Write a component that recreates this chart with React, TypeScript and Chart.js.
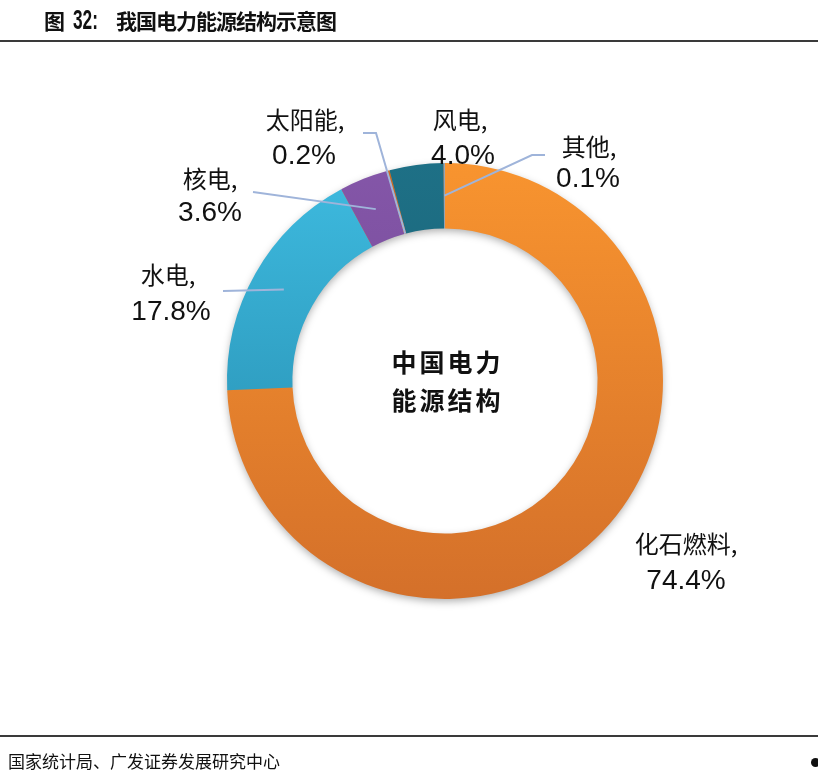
import React, { useEffect, useRef } from 'react';
import { Chart, registerables } from 'chart.js';

Chart.register(...registerables);

// ---- data ----
const categories = ['化石燃料', '水电', '核电', '太阳能', '风电', '其他'];
const shares = [74.4, 17.8, 3.6, 0.2, 4.0, 0.1];
const shareLabels = ['74.4%', '17.8%', '3.6%', '0.2%', '4.0%', '0.1%'];
const centerTitle = ['中国电力', '能源结构'];
const titleNo = '32:';
const titleText = '我国电力能源结构示意图';
const sourceText = '国家统计局、广发证券发展研究中心';

// ---- styles ----
const colorsTop = ['#F8942F', '#3EBBE0', '#8456A8', '#D06A1E', '#1E7086', '#9AA5B5'];
const colorsBottom = ['#D4702A', '#2386A8', '#6C4590', '#B85A18', '#175C6E', '#8090A0'];
const leaderColor = '#9FB4DA';

// label layout (annotation positions): name line centre, value line centre,
// leader polyline starting points, and where on the ring the leader ends (0 inner .. 1 outer)
const labelLayout: any[] = [
  { nx: 686, ny: 544, vx: 686, vy: 581, leader: null, r: 0 },
  { nx: 168, ny: 275, vx: 171, vy: 312, leader: [[223, 291]], r: 0.5 },
  { nx: 210, ny: 179, vx: 210, vy: 213, leader: [[253, 192]], r: 0.5 },
  { nx: 305, ny: 120, vx: 304, vy: 156, leader: [[363, 133], [376, 133]], r: 0 },
  { nx: 460, ny: 120, vx: 463, vy: 156, leader: null, r: 0 },
  { nx: 589, ny: 147, vx: 588, vy: 179, leader: [[545, 155], [532, 155]], r: 0.5 },
];

const shadowPlugin = {
  id: 'ringShadow',
  beforeDatasetsDraw(chart: any) {
    const meta = chart.getDatasetMeta(0);
    const arc = meta.data[0];
    if (!arc) return;
    const { x, y, innerRadius, outerRadius } = arc.getProps(['x', 'y', 'innerRadius', 'outerRadius'], true);
    const ctx = chart.ctx;
    ctx.save();
    ctx.shadowColor = 'rgba(0,0,0,0.35)';
    ctx.shadowBlur = 8;
    ctx.shadowOffsetY = 3;
    ctx.beginPath();
    ctx.arc(x, y, outerRadius - 1, 0, Math.PI * 2);
    ctx.arc(x, y, innerRadius + 1, 0, Math.PI * 2, true);
    ctx.closePath();
    ctx.fillStyle = '#E08030';
    ctx.fill();
    ctx.restore();
  },
};

const labelPlugin = {
  id: 'ringLabels',
  afterDraw(chart: any) {
    const ctx = chart.ctx;
    const meta = chart.getDatasetMeta(0);
    ctx.save();
    meta.data.forEach((arc: any, i: number) => {
      const lay = labelLayout[i];
      if (!lay) return;
      const { x, y, startAngle, endAngle, innerRadius, outerRadius } = arc.getProps(
        ['x', 'y', 'startAngle', 'endAngle', 'innerRadius', 'outerRadius'],
        true
      );
      if (lay.leader) {
        const mid = (startAngle + endAngle) / 2;
        const rr = innerRadius + (outerRadius - innerRadius) * lay.r;
        const ex = x + Math.cos(mid) * rr;
        const ey = y + Math.sin(mid) * rr;
        ctx.beginPath();
        ctx.strokeStyle = leaderColor;
        ctx.lineWidth = 2;
        lay.leader.forEach((p: number[], k: number) => {
          if (k === 0) ctx.moveTo(p[0], p[1]);
          else ctx.lineTo(p[0], p[1]);
        });
        ctx.lineTo(ex, ey);
        ctx.stroke();
      }
      ctx.fillStyle = '#111';
      ctx.textAlign = 'center';
      ctx.textBaseline = 'middle';
      ctx.font = '24px "Noto Sans CJK SC", sans-serif';
      ctx.fillText(categories[i] + ',', lay.nx, lay.ny);
      ctx.font = '28px "Liberation Sans", Arial, sans-serif';
      ctx.fillText(shareLabels[i], lay.vx, lay.vy);
    });

    // centre title
    const a0 = meta.data[0];
    if (a0) {
      const { x, y } = a0.getProps(['x', 'y'], true);
      ctx.font = 'bold 25px "Noto Sans CJK SC", sans-serif';
      ctx.fillStyle = '#111';
      ctx.textAlign = 'center';
      ctx.textBaseline = 'middle';
      const adv = 28;
      centerTitle.forEach((line, li) => {
        const chars = Array.from(line);
        const total = adv * chars.length;
        const ly = y + (li === 0 ? -19 : 19);
        chars.forEach((ch, ci) => {
          ctx.fillText(ch, x + 1 - total / 2 + adv * (ci + 0.5), ly);
        });
      });
    }
    ctx.restore();
  },
};

export default function App() {
  const canvasRef = useRef<HTMLCanvasElement | null>(null);

  useEffect(() => {
    document.body.style.margin = '0';
    const canvas = canvasRef.current;
    if (!canvas) return;
    const grad = (i: number) => (c: any) => {
      const chart = c.chart;
      const area = chart.chartArea;
      if (!area) return colorsTop[i];
      const g = chart.ctx.createLinearGradient(0, area.top, 0, area.bottom);
      g.addColorStop(0, colorsTop[i]);
      g.addColorStop(1, colorsBottom[i]);
      return g;
    };
    const chart = new Chart(canvas, {
      type: 'doughnut',
      data: {
        labels: categories,
        datasets: [
          {
            data: shares,
            backgroundColor: (c: any) => grad(c.dataIndex)(c),
            borderWidth: 0,
            hoverOffset: 0,
          },
        ],
      },
      options: {
        responsive: false,
        animation: false,
        cutout: '70%',
        rotation: 0,
        layout: { padding: { left: 227, top: 163, right: 155, bottom: 176 } },
        plugins: {
          legend: { display: false },
          tooltip: { enabled: false },
          title: { display: false },
        },
        events: [],
      },
      plugins: [shadowPlugin, labelPlugin],
    } as any);
    return () => chart.destroy();
  }, []);

  const cjk = '"Noto Sans CJK SC", sans-serif';
  return (
    <div style={{ position: 'fixed', left: 0, top: 0, width: 818, height: 775, background: '#fff', overflow: 'hidden' }}>
      <canvas ref={canvasRef} width={818} height={775} style={{ position: 'absolute', left: 0, top: 0, width: 818, height: 775 }} />
      <span style={{ position: 'absolute', left: 44, top: 7, fontFamily: cjk, fontWeight: 700, fontSize: 21, lineHeight: '26px', color: '#111', whiteSpace: 'nowrap' }}>图</span>
      <span style={{ position: 'absolute', left: 73, top: 4, fontFamily: '"Liberation Sans", Arial, sans-serif', fontWeight: 700, fontSize: 27, lineHeight: '32px', color: '#111', transform: 'scaleX(0.64)', transformOrigin: 'left center', whiteSpace: 'nowrap' }}>{titleNo}</span>
      <span style={{ position: 'absolute', left: 116, top: 7, fontFamily: cjk, fontWeight: 700, fontSize: 21, lineHeight: '26px', letterSpacing: -1, color: '#111', whiteSpace: 'nowrap' }}>{titleText}</span>
      <div style={{ position: 'absolute', left: 0, top: 40, width: 818, height: 2, background: '#3a3a3a' }} />
      <div style={{ position: 'absolute', left: 0, top: 735, width: 818, height: 2, background: '#3a3a3a' }} />
      <span style={{ position: 'absolute', left: 8, top: 750, fontFamily: cjk, fontSize: 17, lineHeight: '22px', color: '#111', whiteSpace: 'nowrap' }}>{sourceText}</span>
      <div style={{ position: 'absolute', left: 811, top: 758, width: 9, height: 9, borderRadius: '50%', background: '#111' }} />
    </div>
  );
}
